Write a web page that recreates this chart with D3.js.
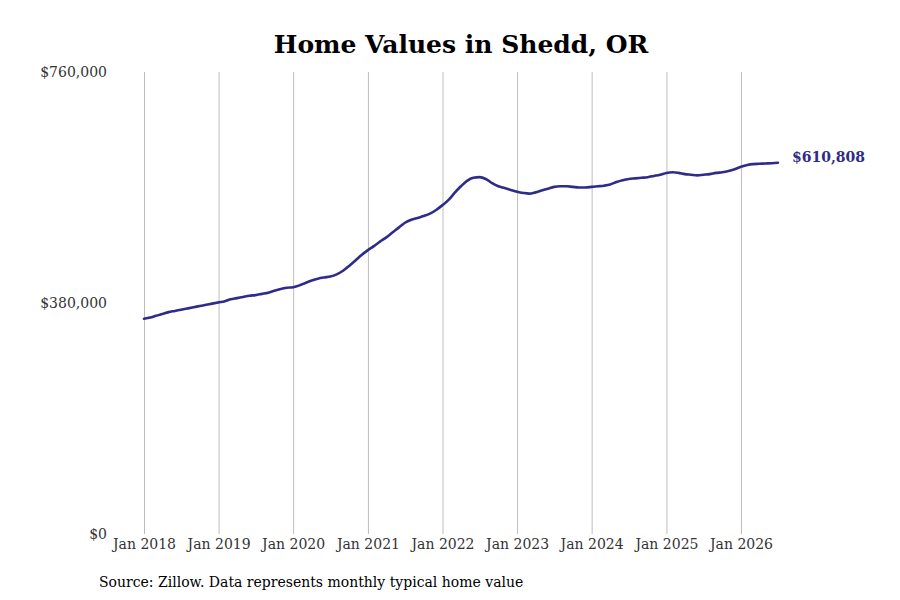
<!DOCTYPE html>
<html>
<head>
<meta charset="utf-8">
<script src="https://cdn.jsdelivr.net/npm/d3@7"></script>
<style>
  body { margin: 0; background: #fff; }
  svg { display: block; font-family: "DejaVu Serif", serif; }
</style>
</head>
<body>
<svg id="chart"></svg>
<script>
// monthly typical home value, Jan 2018 .. Jul 2026
const startMonth = new Date(2018, 0, 1);
const values = [
  354000, 356000, 359000, 362000, 365000, 367000, 369000, 371000, 373000, 375000, 377000, 379000,
  381000, 383000, 386000, 388000, 390000, 392000, 393000, 395000, 397000, 400000, 403000, 405000,
  406000, 409000, 413000, 417000, 420000, 422000, 423500, 427000, 433000, 441000, 450000, 459000,
  467000, 474000, 481000, 488000, 496000, 504000, 512000, 517000, 520000, 523000, 527000, 533000,
  541000, 550000, 561000, 572000, 581000, 586000, 587000, 584000, 577000, 572000, 569000, 566000,
  563000, 561000, 560000, 562000, 565000, 568000, 571000, 572000, 572000, 571000, 570000, 570000,
  571000, 572000, 573000, 575000, 579000, 582000, 584000, 585000, 586000, 587000, 589000, 591000,
  594000, 595000, 594000, 592000, 591000, 590000, 591000, 592000, 594000, 595000, 597000, 600000,
  604000, 607000, 608500, 609000, 609500, 610000, 610808
];
const yTicks = [0, 380000, 760000];
const tickYears = [2018, 2019, 2020, 2021, 2022, 2023, 2024, 2025, 2026];

const data = values.map((v, i) => ({ date: d3.timeMonth.offset(startMonth, i), value: v }));

const width = 900;
const height = 600;
const margin = ({ top: 72, right: 159, bottom: 66, left: 144 });

const xScale = d3.scaleTime()
  .domain([new Date(2018, 0, 1), new Date(2026, 0, 1)])
  .range([margin.left, 741]);

const yScale = d3.scaleLinear()
  .domain([0, 760000])
  .range([height - margin.bottom, margin.top]);

const svg = d3.select("#chart")
  .attr("width", width)
  .attr("height", height)
  .attr("viewBox", [0, 0, width, height]);

// title
svg.append("text")
  .attr("x", 461)
  .attr("y", 53)
  .attr("text-anchor", "middle")
  .attr("font-size", 25)
  .attr("font-weight", "bold")
  .attr("fill", "#000")
  .text("Home Values in Shedd, OR");

// vertical gridlines + x labels
const xAxis = g => g
  .attr("transform", `translate(0,${height - margin.bottom})`)
  .call(d3.axisBottom(xScale)
    .tickValues(tickYears.map(y => new Date(y, 0, 1)))
    .tickSize(-(height - margin.bottom - margin.top))
    .tickPadding(5)
    .tickFormat(d3.timeFormat("Jan %Y")))
  .call(g => g.select(".domain").remove())
  .call(g => g.selectAll(".tick line").attr("stroke", "#bdbdbd").attr("stroke-width", 1))
  .call(g => g.selectAll(".tick text")
    .attr("font-family", "DejaVu Serif, serif")
    .attr("font-size", 14)
    .attr("fill", "#333"));

svg.append("g").call(xAxis);

// y labels
const yAxis = g => g
  .attr("transform", `translate(107,0)`)
  .call(d3.axisLeft(yScale)
    .tickValues(yTicks)
    .tickSize(0)
    .tickPadding(0)
    .tickFormat(d => "$" + d3.format(",")(d)))
  .call(g => g.select(".domain").remove())
  .call(g => g.selectAll(".tick text")
    .attr("font-family", "DejaVu Serif, serif")
    .attr("font-size", 14)
    .attr("fill", "#333"));

svg.append("g").call(yAxis);

// line
const line = d3.line()
  .x(d => xScale(d.date))
  .y(d => yScale(d.value))
  .curve(d3.curveMonotoneX);

svg.append("path")
  .datum(data)
  .attr("fill", "none")
  .attr("stroke", "#2e2c88")
  .attr("stroke-width", 2.6)
  .attr("stroke-linejoin", "round")
  .attr("stroke-linecap", "round")
  .attr("d", line);

// end label
const last = data[data.length - 1];
svg.append("text")
  .attr("x", xScale(last.date) + 14)
  .attr("y", yScale(last.value) - 5)
  .attr("dominant-baseline", "middle")
  .attr("font-size", 14)
  .attr("font-weight", "bold")
  .attr("fill", "#2e2c88")
  .text("$" + d3.format(",")(last.value));

// source note
svg.append("text")
  .attr("x", 99)
  .attr("y", 587)
  .attr("font-size", 14)
  .attr("fill", "#000")
  .text("Source: Zillow. Data represents monthly typical home value");
</script>
</body>
</html>
